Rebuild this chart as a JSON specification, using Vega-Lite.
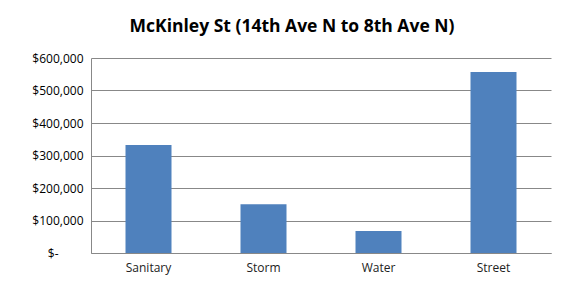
{
  "$schema": "https://vega.github.io/schema/vega-lite/v6.json",
  "width": 460,
  "height": 195,
  "autosize": {"type": "none"},
  "padding": {"left": 91, "top": 58, "right": 13, "bottom": 28},
  "background": "white",
  "title": {
    "text": "McKinley St (14th Ave N to 8th Ave N)",
    "font": "Open Sans",
    "fontSize": 17.5,
    "fontWeight": "bold",
    "color": "#000000",
    "anchor": "middle",
    "dx": -29,
    "offset": 17
  },
  "data": {
    "values": [
      {"category": "Sanitary", "cost": 332000},
      {"category": "Storm", "cost": 150000},
      {"category": "Water", "cost": 68000},
      {"category": "Street", "cost": 557000}
    ]
  },
  "mark": {"type": "bar", "color": "#4F81BD"},
  "encoding": {
    "x": {
      "field": "category",
      "type": "nominal",
      "sort": null,
      "scale": {"paddingInner": 0.6, "paddingOuter": 0.3},
      "axis": {
        "title": null,
        "labelAngle": 0,
        "labelFont": "Open Sans",
        "labelFontSize": 12,
        "labelColor": "#222222",
        "labelPadding": 9,
        "ticks": false,
        "domainColor": "#888888",
        "domainWidth": 1
      }
    },
    "y": {
      "field": "cost",
      "type": "quantitative",
      "scale": {"domain": [0, 600000], "nice": false},
      "axis": {
        "title": null,
        "values": [0, 100000, 200000, 300000, 400000, 500000, 600000],
        "labelExpr": "datum.value == 0 ? '$-' : format(datum.value, '$,')",
        "labelFont": "Open Sans",
        "labelFontSize": 12,
        "labelColor": "#000000",
        "labelPadding": {"condition": {"test": "datum.value == 0", "value": 33}, "value": 8},
        "ticks": false,
        "grid": true,
        "gridColor": "#888888",
        "gridWidth": 1,
        "domain": true,
        "domainColor": "#888888"
      }
    }
  },
  "config": {"view": {"stroke": null}}
}
